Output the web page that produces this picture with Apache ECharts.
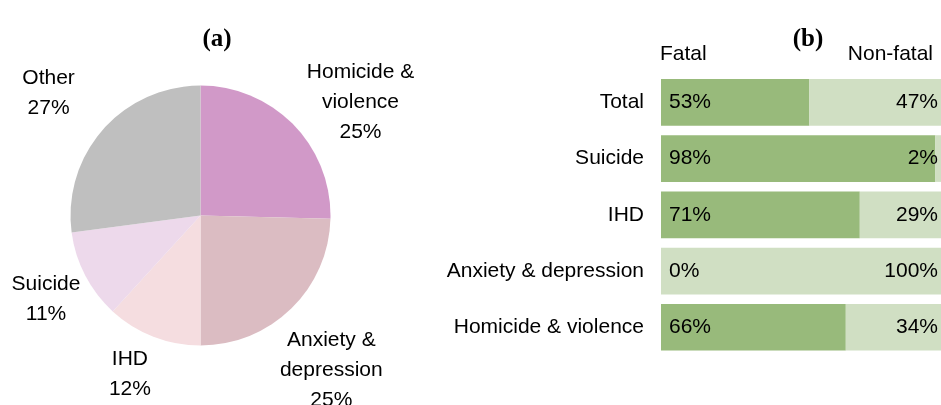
<!DOCTYPE html>
<html>
<head>
<meta charset="utf-8">
<script src="https://cdn.jsdelivr.net/npm/echarts@6/dist/echarts.min.js"></script>
<style>html,body{margin:0;padding:0;background:#fff}#c{width:941px;height:405px}</style>
</head>
<body>
<div id="c"></div>
<script>
// Panel (a): pie shares (%)
var pieNames = ['Homicide & violence', 'Anxiety & depression', 'IHD', 'Suicide', 'Other'];
var pieShares = [25.4, 24.6, 11.8, 11.1, 27.1];
// Panel (b): fatal vs non-fatal (%)
var barCategories = ['Total', 'Suicide', 'IHD', 'Anxiety & depression', 'Homicide & violence'];
var fatalValues = [53, 98, 71, 0, 66];
var nonFatalValues = [47, 2, 29, 100, 34];
var seriesNames = ['Fatal', 'Non-fatal'];
var panelTitles = ['(a)', '(b)'];

var pieColors = ['#D199C8', '#DBBCC2', '#F5DDE0', '#EDD9EB', '#BFBFBF'];
// label placement (labelLine length, length2) per slice, in px
var pieLabelGeom = [[32, -16], [86, -80], [40, -51], [51, -66], [56, -48]];

var FONT = 'Liberation Sans, Arial, sans-serif';

var pieData = pieNames.map(function (n, i) {
  return {
    name: n,
    value: pieShares[i],
    itemStyle: { color: pieColors[i] },
    labelLine: { show: false, length: pieLabelGeom[i][0], length2: pieLabelGeom[i][1] }
  };
});

var chart = echarts.init(document.getElementById('c'), null, { renderer: 'canvas' });
chart.setOption({
  animation: false,
  backgroundColor: '#fff',
  title: [
    { text: panelTitles[0], left: 212, top: 35, textAlign: 'center', textVerticalAlign: 'middle',
      textStyle: { fontFamily: 'Liberation Serif, serif', fontWeight: 'bold', fontSize: 25, color: '#000' } },
    { text: panelTitles[1], left: 803, top: 35, textAlign: 'center', textVerticalAlign: 'middle',
      textStyle: { fontFamily: 'Liberation Serif, serif', fontWeight: 'bold', fontSize: 25, color: '#000' } },
    { text: seriesNames[0], left: 655, top: 39,
      textStyle: { fontFamily: FONT, fontWeight: 'normal', fontSize: 21, color: '#000' } },
    { text: seriesNames[1], right: 3, top: 39,
      textStyle: { fontFamily: FONT, fontWeight: 'normal', fontSize: 21, color: '#000' } }
  ],
  grid: { left: 661, right: 0, top: 74.2, bottom: 49.6, containLabel: false },
  xAxis: { type: 'value', min: 0, max: 100, show: false },
  yAxis: {
    type: 'category', data: barCategories, inverse: true,
    axisLine: { show: false }, axisTick: { show: false },
    axisLabel: { fontFamily: FONT, fontSize: 21, color: '#000', margin: 17 }
  },
  series: [
    {
      type: 'pie',
      center: [200.5, 215.5],
      radius: 130,
      startAngle: 90,
      clockwise: true,
      avoidLabelOverlap: false,
      data: pieData,
      itemStyle: { borderWidth: 0 },
      label: {
        show: true,
        position: 'outside',
        formatter: function (p) {
          return '{t|' + p.name.replace(' & ', ' &\n') + '\n' + Math.round(p.value) + '%}';
        },
        rich: {
          t: { width: 110, align: 'center', fontFamily: FONT, fontSize: 21, lineHeight: 30, color: '#000' }
        }
      },
      emphasis: { disabled: true }
    },
    {
      name: seriesNames[0], type: 'bar', stack: 'a', data: fatalValues,
      barCategoryGap: '17%',
      itemStyle: { color: '#98BA7B' },
      label: { show: true, position: 'insideLeft', distance: 8, formatter: '{c}%',
               fontFamily: FONT, fontSize: 21, color: '#000' },
      emphasis: { disabled: true }
    },
    {
      name: seriesNames[1], type: 'bar', stack: 'a', data: nonFatalValues,
      barCategoryGap: '17%',
      itemStyle: { color: '#D0DFC3' },
      label: { show: true, position: 'insideRight', distance: 3, formatter: '{c}%',
               fontFamily: FONT, fontSize: 21, color: '#000' },
      emphasis: { disabled: true }
    }
  ]
});
</script>
</body>
</html>
